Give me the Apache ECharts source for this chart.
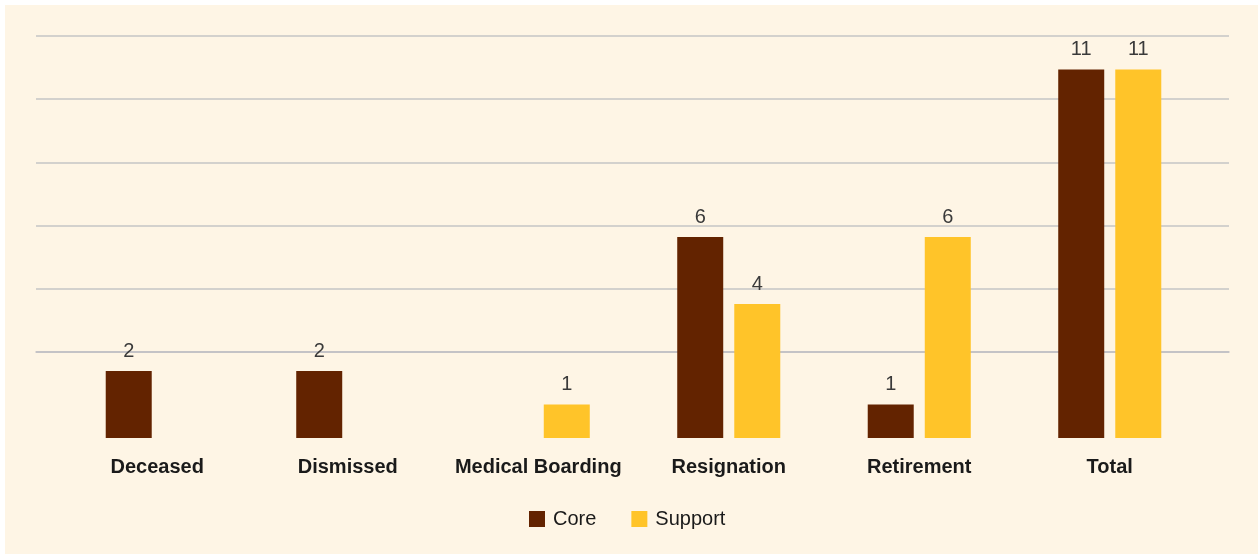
<!DOCTYPE html>
<html>
<head>
<meta charset="utf-8">
<script src="https://cdn.jsdelivr.net/npm/echarts@6/dist/echarts.min.js"></script>
<style>
  html, body { margin: 0; padding: 0; background: #fff; }
  #card { position: absolute; left: 5px; top: 5px; width: 1253px; height: 549px; background: #fef5e5; }
  #chart { position: absolute; left: 0; top: 0; width: 1258px; height: 554px; }
</style>
</head>
<body>
<div id="card"></div>
<div id="chart"></div>
<script>
// categories and values
const categories = ['Deceased', 'Dismissed', 'Medical Boarding', 'Resignation', 'Retirement', 'Total']
const core = [2, 2, 0, 6, 1, 11]
const support = [0, 0, 1, 4, 6, 11]

const chart = echarts.init(document.getElementById('chart'))

const labelOpt = {
  show: true,
  position: 'top',
  distance: 10,
  color: '#3a3a3a',
  fontSize: 20,
  fontFamily: 'Liberation Sans',
  formatter: (p) => p.value === 0 ? '' : p.value
}

chart.setOption({
  backgroundColor: 'transparent',
  animation: false,
  textStyle: { fontFamily: 'Liberation Sans' },
  color: ['#632300', '#ffc429'],
  legend: {
    left: 524,
    top: 504,
    itemWidth: 16,
    itemHeight: 16,
    itemGap: 35,
    icon: 'rect',
    textStyle: { fontSize: 20, color: '#1a1a1a', fontFamily: 'Liberation Sans', padding: [0, 0, 0, 3] },
    data: ['Core', 'Support']
  },
  grid: [
    // bars
    { left: 62, right: 53, top: 36, bottom: 116 },
    // gridlines + base line
    { left: 36, right: 29, top: 36, height: 316 }
  ],
  xAxis: [
    {
      type: 'category',
      gridIndex: 0,
      data: categories,
      axisLine: { show: false },
      axisTick: { show: false },
      axisLabel: {
        interval: 0,
        margin: 19,
        fontSize: 20,
        fontWeight: 'bold',
        color: '#1a1a1a',
        fontFamily: 'Liberation Sans'
      }
    },
    {
      type: 'value',
      gridIndex: 1,
      min: 0,
      max: 1,
      offset: 86,
      axisLine: { show: true, lineStyle: { color: '#c0bfc4', width: 1.5 } },
      axisTick: { show: false },
      axisLabel: { show: false },
      splitLine: { show: false }
    }
  ],
  yAxis: [
    {
      type: 'value',
      gridIndex: 0,
      min: 0,
      max: 12,
      show: false,
      splitLine: { show: false }
    },
    {
      type: 'value',
      gridIndex: 1,
      min: 0,
      max: 5,
      interval: 1,
      axisLine: { show: false },
      axisTick: { show: false },
      axisLabel: { show: false },
      splitLine: { show: true, lineStyle: { color: '#c4c4c4', width: 1.5 } }
    }
  ],
  series: [
    {
      name: 'Core',
      type: 'bar',
      xAxisIndex: 0,
      yAxisIndex: 0,
      barWidth: 46,
      barGap: '24%',
      label: labelOpt,
      data: core
    },
    {
      name: 'Support',
      type: 'bar',
      xAxisIndex: 0,
      yAxisIndex: 0,
      barWidth: 46,
      barGap: '24%',
      label: labelOpt,
      data: support
    },
    {
      type: 'line',
      xAxisIndex: 1,
      yAxisIndex: 1,
      silent: true,
      data: []
    }
  ]
})
</script>
</body>
</html>
